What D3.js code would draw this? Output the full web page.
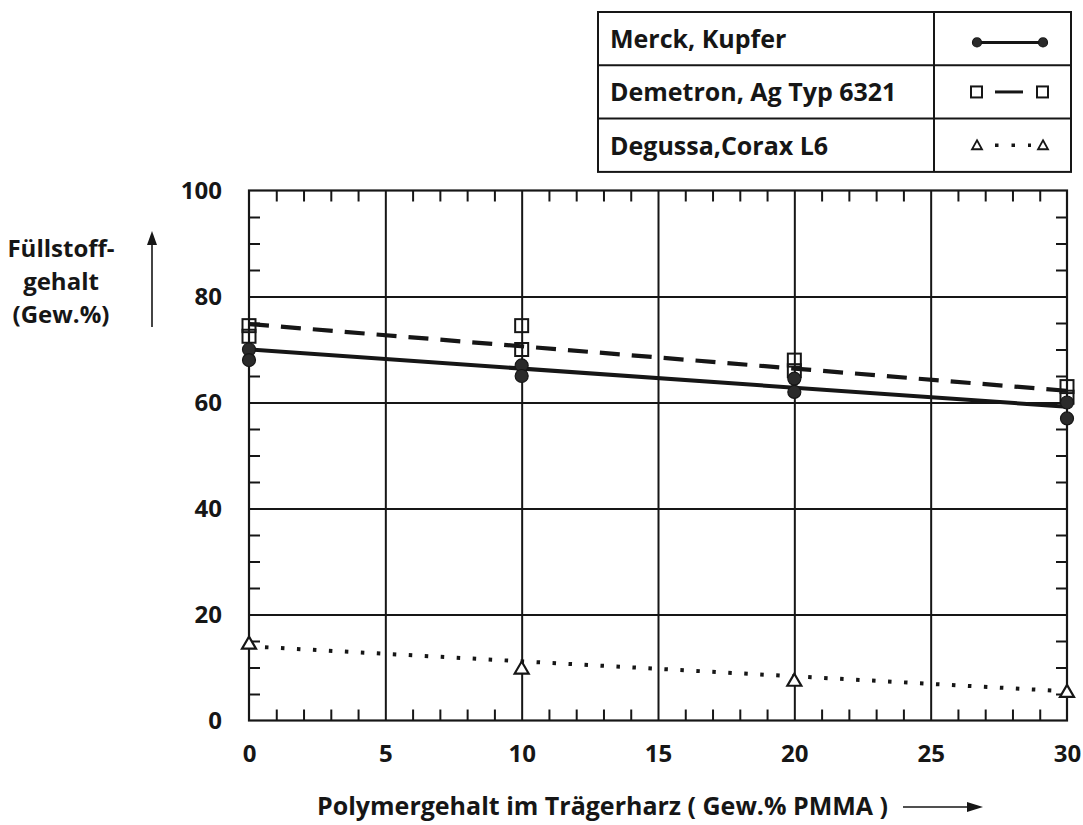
<!DOCTYPE html>
<html>
<head>
<meta charset="utf-8">
<script src="https://cdn.jsdelivr.net/npm/d3@7"></script>
<style>
  body { margin: 0; background: #fff; }
  svg { display: block; font-family: "Open Sans", sans-serif; font-weight: 700; }
</style>
</head>
<body>
<svg id="chart" width="1083" height="825"></svg>
<script>
// values
const xTicks = [0, 5, 10, 15, 20, 25, 30]
const yTicks = [0, 20, 40, 60, 80, 100]
const xMinor = d3.range(0, 31).filter(v => v % 5 !== 0)
const yMinor = d3.range(0, 101, 5).filter(v => v % 20 !== 0)

const merckX = [0, 0, 10, 10, 20, 20, 30, 30]
const merckY = [70, 68, 67, 65, 64.5, 62, 60, 57]
const merckFit = [[0, 70], [30, 59.2]]

const demetronX = [0, 0, 10, 10, 20, 20, 30, 30]
const demetronY = [74.5, 72.5, 74.5, 70, 68, 66, 63, 61]
const demetronFit = [[0, 74.8], [30, 62.2]]

const degussaX = [0, 10, 20, 30]
const degussaY = [14.5, 9.8, 7.5, 5.4]
const degussaFit = [[0, 14], [30, 5.5]]

const legendLabels = ['Merck, Kupfer', 'Demetron, Ag Typ 6321', 'Degussa,Corax L6']

const ink = '#161616'
const svg = d3.select('#chart')

const x = d3.scaleLinear().domain([0, 30]).range([249, 1067])
const y = d3.scaleLinear().domain([0, 100]).range([720.5, 190.5])

const pTop = y(100), pBottom = y(0), pLeft = x(0), pRight = x(30)

// grid
const grid = svg.append('g')
grid.append('g')
  .attr('transform', `translate(0,${pBottom})`)
  .call(d3.axisBottom(x).tickValues(xTicks.slice(1, -1)).tickSize(-(pBottom - pTop)).tickFormat(''))
grid.append('g')
  .attr('transform', `translate(${pLeft},0)`)
  .call(d3.axisLeft(y).tickValues(yTicks.slice(1, -1)).tickSize(-(pRight - pLeft)).tickFormat(''))
grid.selectAll('.domain').remove()
grid.selectAll('line').attr('stroke', ink).attr('stroke-width', 2)

// minor inward ticks on all four sides
const minor = svg.append('g')
minor.append('g').attr('transform', `translate(0,${pTop})`)
  .call(d3.axisTop(x).tickValues(xMinor).tickSize(-11).tickFormat(''))
minor.append('g').attr('transform', `translate(0,${pBottom})`)
  .call(d3.axisBottom(x).tickValues(xMinor).tickSize(-11).tickFormat(''))
minor.append('g').attr('transform', `translate(${pLeft},0)`)
  .call(d3.axisLeft(y).tickValues(yMinor).tickSize(-11).tickFormat(''))
minor.append('g').attr('transform', `translate(${pRight},0)`)
  .call(d3.axisRight(y).tickValues(yMinor).tickSize(-11).tickFormat(''))
minor.selectAll('.domain').remove()
minor.selectAll('line').attr('stroke', ink).attr('stroke-width', 2)

// frame
svg.append('rect')
  .attr('x', pLeft).attr('y', pTop)
  .attr('width', pRight - pLeft).attr('height', pBottom - pTop)
  .attr('fill', 'none').attr('stroke', ink).attr('stroke-width', 2.2)

// tick labels
const xAxis = svg.append('g')
  .attr('transform', `translate(0,${pBottom})`)
  .call(d3.axisBottom(x).tickValues(xTicks).tickSize(0).tickPadding(24))
const yAxis = svg.append('g')
  .attr('transform', `translate(${pLeft},0)`)
  .call(d3.axisLeft(y).tickValues(yTicks).tickSize(0).tickPadding(27))
;[xAxis, yAxis].forEach(a => {
  a.select('.domain').remove()
  a.selectAll('text')
    .attr('fill', ink)
    .style('font-family', '"Open Sans", sans-serif')
    .style('font-weight', 700)
    .style('font-size', '24px')
})

// fit lines
const line = d3.line().x(d => x(d[0])).y(d => y(d[1]))
svg.append('path').datum(merckFit).attr('d', line)
  .attr('fill', 'none').attr('stroke', ink).attr('stroke-width', 4)
svg.append('path').datum(demetronFit).attr('d', line)
  .attr('fill', 'none').attr('stroke', ink).attr('stroke-width', 4.2)
  .attr('stroke-dasharray', '20 12')
svg.append('path').datum(degussaFit).attr('d', line)
  .attr('fill', 'none').attr('stroke', ink).attr('stroke-width', 4)
  .attr('stroke-dasharray', '3.5 12.5')

// markers
const circle = (g, cx, cy) => g.append('circle')
  .attr('cx', cx).attr('cy', cy).attr('r', 6.5)
  .attr('fill', '#2a2a2a').attr('stroke', ink).attr('stroke-width', 1.2)
const square = (g, cx, cy) => g.append('rect')
  .attr('x', cx - 6.5).attr('y', cy - 6.5).attr('width', 13).attr('height', 13)
  .attr('fill', 'none').attr('stroke', ink).attr('stroke-width', 2)
const triangle = (g, cx, cy) => g.append('path')
  .attr('d', `M${cx},${cy - 7}L${cx + 7},${cy + 5}L${cx - 7},${cy + 5}Z`)
  .attr('fill', '#fff').attr('stroke', ink).attr('stroke-width', 2.2)

const marks = svg.append('g')
demetronX.forEach((v, i) => square(marks, x(v), y(demetronY[i])))
merckX.forEach((v, i) => circle(marks, x(v), y(merckY[i])))
degussaX.forEach((v, i) => triangle(marks, x(v), y(degussaY[i])))

// legend table
const lg = svg.append('g')
const lx0 = 598, lx1 = 1071, ldiv = 934, ly0 = 12, rowH = 53.3
lg.append('rect').attr('x', lx0).attr('y', ly0)
  .attr('width', lx1 - lx0).attr('height', rowH * 3)
  .attr('fill', 'none').attr('stroke', ink).attr('stroke-width', 2)
lg.append('line').attr('x1', ldiv).attr('x2', ldiv)
  .attr('y1', ly0).attr('y2', ly0 + rowH * 3)
  .attr('stroke', ink).attr('stroke-width', 2)
;[1, 2].forEach(i => lg.append('line')
  .attr('x1', lx0).attr('x2', lx1)
  .attr('y1', ly0 + rowH * i).attr('y2', ly0 + rowH * i)
  .attr('stroke', ink).attr('stroke-width', 2))
legendLabels.forEach((t, i) => lg.append('text')
  .attr('x', 610).attr('y', ly0 + rowH * i + 36)
  .attr('fill', ink).style('font-size', '25px').text(t))

const sx0 = 977, sx1 = 1043
const r0 = ly0 + rowH * 0.57, r1 = ly0 + rowH * 1.5, r2 = ly0 + rowH * 2.5
lg.append('line').attr('x1', sx0).attr('x2', sx1).attr('y1', r0).attr('y2', r0)
  .attr('stroke', ink).attr('stroke-width', 3)
circle(lg, sx0, r0).attr('r', 4.5)
circle(lg, sx1, r0).attr('r', 4.5)
lg.append('line').attr('x1', 995).attr('x2', 1023).attr('y1', r1).attr('y2', r1)
  .attr('stroke', ink).attr('stroke-width', 3)
square(lg, 977, r1).attr('width', 11).attr('height', 11).attr('x', 971).attr('y', r1 - 5.5)
square(lg, 1043, r1).attr('width', 11).attr('height', 11).attr('x', 1037).attr('y', r1 - 5.5)
lg.append('line').attr('x1', 995).attr('x2', 1031).attr('y1', r2).attr('y2', r2)
  .attr('stroke', ink).attr('stroke-width', 3.5).attr('stroke-dasharray', '3.5 13')
lg.append('path').attr('d', `M977,${r2 - 5}L982,${r2 + 4}L972,${r2 + 4}Z`)
  .attr('fill', 'none').attr('stroke', ink).attr('stroke-width', 1.8)
lg.append('path').attr('d', `M1043,${r2 - 5}L1048,${r2 + 4}L1038,${r2 + 4}Z`)
  .attr('fill', 'none').attr('stroke', ink).attr('stroke-width', 1.8)

// axis titles
const yTitle = ['Füllstoff-', 'gehalt', '(Gew.%)']
yTitle.forEach((t, i) => svg.append('text')
  .attr('x', 61).attr('y', 257 + i * 33)
  .attr('text-anchor', 'middle').attr('fill', ink)
  .style('font-size', '24px').text(t))
svg.append('line').attr('x1', 152).attr('x2', 152).attr('y1', 327).attr('y2', 240)
  .attr('stroke', ink).attr('stroke-width', 1.6)
svg.append('path').attr('d', 'M152,231L147,245L157,245Z').attr('fill', ink)

svg.append('text')
  .attr('x', 888).attr('y', 815)
  .attr('text-anchor', 'end').attr('fill', ink)
  .style('font-size', '25px')
  .text('Polymergehalt im Trägerharz ( Gew.% PMMA )')
svg.append('line').attr('x1', 903).attr('x2', 972).attr('y1', 807).attr('y2', 807)
  .attr('stroke', ink).attr('stroke-width', 1.6)
svg.append('path').attr('d', 'M983,807L967,802L967,812Z').attr('fill', ink)
</script>
</body>
</html>
